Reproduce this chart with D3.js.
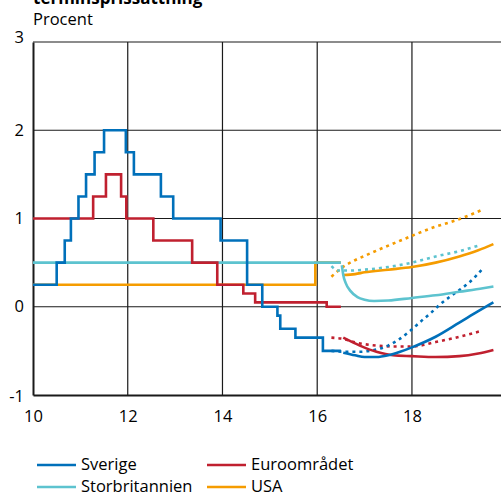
<!DOCTYPE html>
<html>
<head>
<meta charset="utf-8">
<script src="https://cdn.jsdelivr.net/npm/d3@7"></script>
<style>
  html, body { margin: 0; padding: 0; background: #fff; }
  svg { display: block; font-family: "Open Sans", Lato, sans-serif; }
</style>
</head>
<body>
<svg id="chart" width="501" height="497"></svg>
<script>
// ---------- DATA ----------
const xTicks = [10, 12, 14, 16, 18];
const yTicks = [-1, 0, 1, 2, 3];

// Outcomes (policy rates), step functions
const sverigeDates = [10, 10.5, 10.67, 10.8, 10.96, 11.12, 11.3, 11.5, 11.96, 12.13, 12.7, 12.96, 13.96, 14.52, 14.84, 15.16, 15.22, 15.54, 16.12, 16.5];
const sverigeRates = [0.25, 0.5, 0.75, 1.0, 1.25, 1.5, 1.75, 2.0, 1.75, 1.5, 1.25, 1.0, 0.75, 0.25, 0, -0.1, -0.25, -0.35, -0.5, -0.5];

const euroDates = [10, 11.27, 11.54, 11.86, 11.97, 12.54, 13.36, 13.89, 14.44, 14.69, 16.2, 16.5];
const euroRates = [1.0, 1.25, 1.5, 1.25, 1.0, 0.75, 0.5, 0.25, 0.15, 0.05, 0.0, 0.0];

const ukDates = [10, 16.5];
const ukRates = [0.5, 0.5];

const usaDates = [10, 15.96, 16.5];
const usaRates = [0.25, 0.5, 0.5];

// Current forward curves (solid)
const sverigeFwdDates = [16.55, 16.8, 17.0, 17.25, 17.5, 17.75, 18.0, 18.5, 19.0, 19.4, 19.72];
const sverigeFwd      = [-0.52, -0.55, -0.57, -0.57, -0.55, -0.51, -0.46, -0.34, -0.18, -0.05, 0.05];

const euroFwdDates = [16.55, 16.9, 17.25, 17.6, 18.0, 18.5, 19.0, 19.4, 19.72];
const euroFwd      = [-0.35, -0.44, -0.51, -0.55, -0.56, -0.57, -0.56, -0.53, -0.49];

const ukFwdDates = [16.52, 16.55, 16.6, 16.7, 16.85, 17.0, 17.2, 17.5, 18.0, 18.5, 19.0, 19.5, 19.72];
const ukFwd      = [0.47, 0.36, 0.27, 0.18, 0.11, 0.08, 0.065, 0.07, 0.10, 0.13, 0.17, 0.21, 0.23];

const usaFwdDates = [16.55, 16.8, 17.0, 17.5, 18.0, 18.5, 19.0, 19.4, 19.72];
const usaFwd      = [0.36, 0.37, 0.39, 0.42, 0.45, 0.50, 0.57, 0.64, 0.71];

// Earlier forward curves (dotted)
const sverigeOldDates = [16.3, 16.6, 16.9, 17.2, 17.5, 17.7, 17.97, 18.2, 18.4, 18.6, 18.82, 19.03, 19.2, 19.49];
const sverigeOld      = [-0.5, -0.51, -0.51, -0.49, -0.44, -0.38, -0.27, -0.16, -0.07, 0.03, 0.12, 0.20, 0.27, 0.43];

const euroOldDates = [16.3, 16.5, 16.85, 17.25, 17.6, 18.0, 18.5, 19.0, 19.49];
const euroOld      = [-0.35, -0.36, -0.41, -0.44, -0.45, -0.45, -0.40, -0.34, -0.27];

const ukOldDates = [16.3, 16.45, 16.7, 17.0, 17.5, 18.0, 18.5, 19.0, 19.45];
const ukOld      = [0.46, 0.41, 0.41, 0.42, 0.45, 0.50, 0.57, 0.63, 0.70];

const usaOldDates = [16.3, 16.49, 16.77, 17.06, 17.4, 17.76, 18.12, 18.46, 18.82, 19.18, 19.49];
const usaOld      = [0.34, 0.43, 0.52, 0.59, 0.67, 0.75, 0.83, 0.90, 0.96, 1.03, 1.10];

const seriesNames = ["Sverige", "Euroområdet", "Storbritannien", "USA"];
const seriesColors = ["#0070BA", "#C0202F", "#5DC3CF", "#F59C00"];

// ---------- CHART ----------
const svg = d3.select("#chart");
const x = d3.scaleLinear().domain([10, 19.88]).range([33, 501]);
const y = d3.scaleLinear().domain([-1, 3]).range([395, 42]);

const zip = (xs, ys) => xs.map((d, i) => [d, ys[i]]);
const FONT = "'Open Sans', Lato, sans-serif";
const FS = 16.5;

// Title (partially cut off at top, as in the reference) and unit
svg.append("text").attr("x", 33).attr("y", 4)
  .attr("font-size", 17).attr("font-weight", "bold").attr("fill", "#000")
  .text("terminsprissättning");
svg.append("text").attr("x", 33).attr("y", 25)
  .attr("font-size", FS).attr("fill", "#000").text("Procent");

// Gridlines
const grid = svg.append("g");
grid.selectAll("line.h").data(yTicks.filter(d => d > -1)).enter().append("line")
  .attr("x1", x(10)).attr("x2", 501)
  .attr("y1", d => y(d)).attr("y2", d => y(d))
  .attr("stroke", "#1a1a1a").attr("stroke-width", 1.2);
grid.selectAll("line.v").data(xTicks.filter(d => d > 10)).enter().append("line")
  .attr("x1", d => x(d)).attr("x2", d => x(d))
  .attr("y1", y(3)).attr("y2", y(-1))
  .attr("stroke", "#1a1a1a").attr("stroke-width", 1.2);

const fmt = d => String(d);

// Axes
const xAxis = svg.append("g").attr("transform", `translate(0,${y(-1)})`)
  .call(d3.axisBottom(x).tickValues(xTicks).tickSize(0).tickPadding(15).tickFormat(fmt));
xAxis.select(".domain").attr("stroke", "#1a1a1a").attr("stroke-width", 2);
xAxis.selectAll("text").attr("font-size", FS).attr("font-family", FONT).attr("fill", "#000");

const yAxis = svg.append("g").attr("transform", `translate(${x(10)},0)`)
  .call(d3.axisLeft(y).tickValues(yTicks).tickSize(0).tickPadding(9).tickFormat(fmt));
yAxis.select(".domain").attr("stroke", "#1a1a1a").attr("stroke-width", 2);
yAxis.selectAll("text").attr("font-size", FS).attr("font-family", FONT).attr("fill", "#000");
yAxis.selectAll(".tick text").attr("dy", (d) => d === 3 ? "0.05em" : d === -1 ? "0.4em" : "0.3em");

// Lines
const stepLine = d3.line().x(d => x(d[0])).y(d => y(d[1])).curve(d3.curveStepAfter);
const smoothLine = d3.line().x(d => x(d[0])).y(d => y(d[1])).curve(d3.curveMonotoneX);

const plot = svg.append("g").attr("fill", "none").attr("stroke-width", 2.6);

const outcomes = [
  [usaDates, usaRates, 3],
  [ukDates, ukRates, 2],
  [euroDates, euroRates, 1],
  [sverigeDates, sverigeRates, 0]
];
const olds = [
  [usaOldDates, usaOld, 3],
  [ukOldDates, ukOld, 2],
  [euroOldDates, euroOld, 1],
  [sverigeOldDates, sverigeOld, 0]
];
const fwds = [
  [usaFwdDates, usaFwd, 3],
  [ukFwdDates, ukFwd, 2],
  [euroFwdDates, euroFwd, 1],
  [sverigeFwdDates, sverigeFwd, 0]
];

outcomes.forEach(([xs, ys, c]) => {
  plot.append("path").attr("d", stepLine(zip(xs, ys)))
    .attr("stroke", seriesColors[c]).attr("stroke-linejoin", "miter");
});
olds.forEach(([xs, ys, c]) => {
  plot.append("path").attr("d", smoothLine(zip(xs, ys)))
    .attr("stroke", seriesColors[c]).attr("stroke-dasharray", "3 4");
});
fwds.forEach(([xs, ys, c]) => {
  plot.append("path").attr("d", smoothLine(zip(xs, ys)))
    .attr("stroke", seriesColors[c]);
});

// Legend
const legendItems = [
  { name: seriesNames[0], color: seriesColors[0], lx: 37, ly: 465 },
  { name: seriesNames[1], color: seriesColors[1], lx: 207, ly: 465 },
  { name: seriesNames[2], color: seriesColors[2], lx: 37, ly: 487 },
  { name: seriesNames[3], color: seriesColors[3], lx: 207, ly: 487 }
];
const lg = svg.append("g");
legendItems.forEach(it => {
  lg.append("line").attr("x1", it.lx).attr("x2", it.lx + 39)
    .attr("y1", it.ly).attr("y2", it.ly)
    .attr("stroke", it.color).attr("stroke-width", 2.6);
  lg.append("text").attr("x", it.lx + 44).attr("y", it.ly + 5)
    .attr("font-size", FS).attr("fill", "#000").text(it.name);
});
</script>
</body>
</html>
